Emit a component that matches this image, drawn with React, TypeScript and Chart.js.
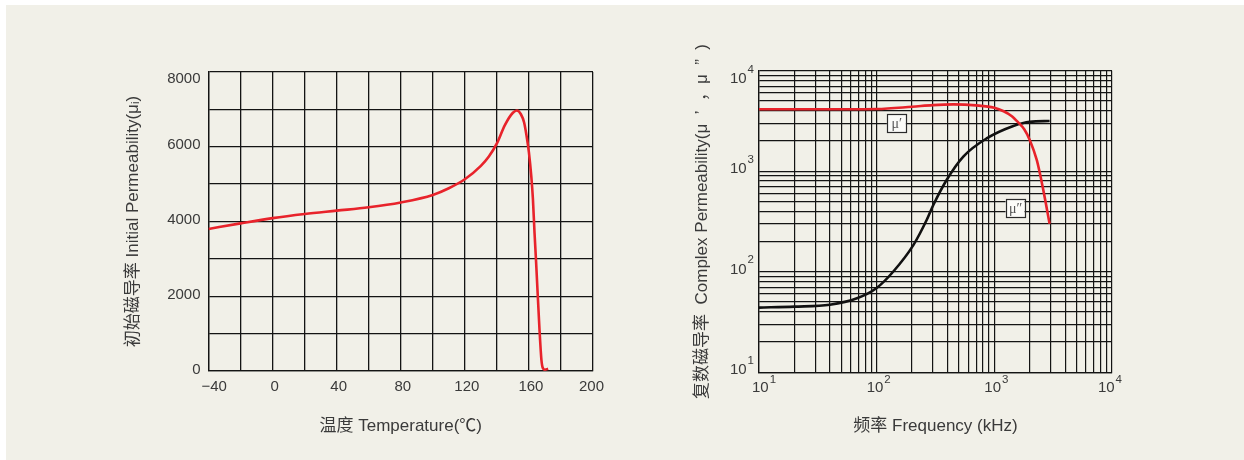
import React, { useEffect, useRef } from 'react';
import { Chart, registerables } from 'chart.js';

Chart.register(...registerables);

const FONT = '"Liberation Sans", "Noto Sans CJK SC", sans-serif';
const TEXT = '#3a3a3a';
const GRID = '#141414';
const RED = '#e8232b';
const BLACK = '#111111';
const PANEL = '#f1f0e8';

// ---- Left chart: initial permeability vs temperature ----
const temperatureC = [-40, -20, 0, 20, 40, 60, 80, 100, 110, 120, 130, 135, 140, 145, 150, 152.5, 155, 157, 158.5, 160, 161.5, 162.5, 163.5, 164.5, 166.5, 167.8, 168.8, 170, 172];
const initialPermeability = [3800, 3950, 4090, 4200, 4290, 4380, 4510, 4710, 4890, 5130, 5490, 5740, 6090, 6580, 6910, 6970, 6870, 6650, 6300, 5850, 5200, 4600, 3700, 2900, 1190, 300, 70, 35, 60];
const tempTickValues = [-40, 0, 40, 80, 120, 160, 200];
const tempTickLabels = ['\u221240', '0', '40', '80', '120', '160', '200'];
const muTickValues = [0, 2000, 4000, 6000, 8000];
const muTickLabels = ['0', '2000', '4000', '6000', '8000'];
const leftXTitle = '温度 Temperature(℃)';
const leftYTitle = '初始磁导率 Initial Permeability(μᵢ)';

// ---- Right chart: complex permeability vs frequency ----
const freqReal = [10, 30, 100, 200, 300, 450, 700, 1000, 1200, 1400, 1600, 1800, 2000, 2300, 2600, 2950];
const muReal = [4130, 4130, 4160, 4380, 4550, 4620, 4520, 4280, 3950, 3550, 3050, 2600, 2050, 1280, 660, 300];
const freqImag = [10, 20, 40, 68, 100, 138, 205, 266, 303, 393, 545, 860, 1450, 2000, 2950];
const muImag = [44, 45, 47, 54.5, 69, 100, 184, 327, 461, 818, 1400, 2120, 2820, 3110, 3160];
const decadeValues = [10, 100, 1000, 10000];
const decadeExponents = ['1', '2', '3', '4'];
const gridMultipliers = [1, 2, 3, 4, 5, 6, 7, 8, 9];
const annotationLabels = ['μ′', 'μ″'];
const annotationFreq = [147, 1500];
const annotationMu = [3020, 428];
const rightXTitle = '频率 Frequency (kHz)';
const rightYTitle = '复数磁导率  Complex Permeability(μ  ’  ，μ  ”  )';

const logGrid = decadeValues
  .slice(0, -1)
  .flatMap((d) => gridMultipliers.map((m) => m * d))
  .concat([decadeValues[decadeValues.length - 1]]);

const titleFont = { family: FONT, size: 17, weight: 'normal' as const };

const leftLabelsPlugin = {
  id: 'leftLabels',
  afterDraw(chart: any) {
    const { ctx, chartArea, scales } = chart;
    ctx.save();
    ctx.fillStyle = TEXT;
    ctx.font = `15px ${FONT}`;
    ctx.textBaseline = 'middle';
    ctx.textAlign = 'right';
    muTickValues.forEach((v, i) => {
      const py = scales.y.getPixelForValue(v);
      const y = Math.max(py - 1.5, chartArea.top + 7);
      ctx.fillText(muTickLabels[i], chartArea.left - 8, y);
    });
    ctx.textAlign = 'left';
    tempTickValues.forEach((v, i) => {
      const label = tempTickLabels[i];
      const w = ctx.measureText(label).width;
      const cx = scales.x.getPixelForValue(v) + 2;
      let l = cx - w / 2;
      l = Math.max(l, chartArea.left - 7);
      l = Math.min(l, chartArea.right + 11 - w);
      ctx.fillText(label, l, chartArea.bottom + 15.5);
    });
    ctx.restore();
  },
};

const rightLabelsPlugin = {
  id: 'rightLabels',
  afterDraw(chart: any) {
    const { ctx, chartArea, scales } = chart;
    ctx.save();
    ctx.fillStyle = TEXT;
    ctx.textBaseline = 'middle';
    const big = `15px ${FONT}`;
    const small = `11.5px ${FONT}`;
    // y axis
    decadeValues.forEach((v, i) => {
      const py = scales.y.getPixelForValue(v);
      const yc = Math.max(py - 2, chartArea.top + 8.6);
      ctx.font = small;
      const w2 = ctx.measureText(decadeExponents[i]).width;
      const right = chartArea.left - 5;
      ctx.textAlign = 'left';
      ctx.fillText(decadeExponents[i], right - w2, yc - 9.5);
      ctx.font = big;
      ctx.textAlign = 'right';
      ctx.fillText('10', right - w2 - 1, yc);
    });
    // x axis
    decadeValues.forEach((v, i) => {
      const px = scales.x.getPixelForValue(v);
      ctx.font = big;
      const w1 = ctx.measureText('10').width;
      ctx.font = small;
      const w2 = ctx.measureText(decadeExponents[i]).width;
      const wt = w1 + 1 + w2;
      let l = px + 2 - wt / 2;
      l = Math.max(l, chartArea.left - 7);
      l = Math.min(l, chartArea.right + 10 - wt);
      ctx.textAlign = 'left';
      ctx.font = big;
      ctx.fillText('10', l, chartArea.bottom + 16);
      ctx.font = small;
      ctx.fillText(decadeExponents[i], l + w1 + 1, chartArea.bottom + 8);
    });
    // annotation boxes
    annotationLabels.forEach((label, i) => {
      const cx = scales.x.getPixelForValue(annotationFreq[i]);
      const cy = scales.y.getPixelForValue(annotationMu[i]);
      const bw = 19;
      const bh = 18;
      ctx.fillStyle = '#fbfbf8';
      ctx.fillRect(cx - bw / 2, cy - bh / 2, bw, bh);
      ctx.strokeStyle = '#2a2a2a';
      ctx.lineWidth = 1.2;
      ctx.strokeRect(Math.round(cx - bw / 2) + 0.5, Math.round(cy - bh / 2) + 0.5, bw, bh);
      ctx.fillStyle = '#555555';
      ctx.font = `14px "Liberation Serif", "DejaVu Serif", serif`;
      ctx.textAlign = 'center';
      ctx.fillText(label, cx + 0.5, cy + 1);
    });
    ctx.restore();
  },
};

function LeftChart() {
  const ref = useRef<HTMLCanvasElement | null>(null);
  useEffect(() => {
    if (!ref.current) return;
    const chart = new Chart(ref.current, {
      type: 'line',
      data: {
        datasets: [
          {
            data: temperatureC.map((t, i) => ({ x: t, y: initialPermeability[i] })),
            borderColor: RED,
            borderWidth: 2.6,
            pointRadius: 0,
            fill: false,
            cubicInterpolationMode: 'monotone',
          },
        ],
      },
      options: {
        responsive: false,
        animation: false,
        layout: { padding: { left: 0, top: 72, right: 47, bottom: 0 } },
        plugins: { legend: { display: false }, tooltip: { enabled: false } },
        scales: {
          x: {
            type: 'linear',
            min: -40,
            max: 200,
            ticks: { display: false, stepSize: 20 },
            grid: { color: GRID, lineWidth: 1.3, drawTicks: false },
            border: { color: GRID, width: 1.3 },
            title: { display: true, text: leftXTitle, font: titleFont, color: TEXT, padding: { top: 0, bottom: 23.8 } },
            afterFit: (s: any) => {
              s.height = 89;
            },
          },
          y: {
            type: 'linear',
            min: 0,
            max: 8000,
            ticks: { display: false, stepSize: 1000 },
            grid: { color: GRID, lineWidth: 1.3, drawTicks: false },
            border: { color: GRID, width: 1.3 },
            title: { display: true, text: leftYTitle, font: titleFont, color: TEXT, padding: { top: 122.8, bottom: 0 } },
            afterFit: (s: any) => {
              s.width = 208.5;
            },
          },
        },
      },
      plugins: [leftLabelsPlugin],
    } as any);
    return () => chart.destroy();
  }, []);
  return (
    <canvas
      ref={ref}
      width={640}
      height={460}
      style={{ position: 'absolute', left: 0, top: 0, width: 640, height: 460 }}
    />
  );
}

function RightChart() {
  const ref = useRef<HTMLCanvasElement | null>(null);
  useEffect(() => {
    if (!ref.current) return;
    const chart = new Chart(ref.current, {
      type: 'line',
      data: {
        datasets: [
          {
            data: freqReal.map((f, i) => ({ x: f, y: muReal[i] })),
            borderColor: RED,
            borderWidth: 2.6,
            pointRadius: 0,
            fill: false,
            cubicInterpolationMode: 'monotone',
          },
          {
            data: freqImag.map((f, i) => ({ x: f, y: muImag[i] })),
            borderColor: BLACK,
            borderWidth: 2.6,
            pointRadius: 0,
            fill: false,
            cubicInterpolationMode: 'monotone',
          },
        ],
      },
      options: {
        responsive: false,
        animation: false,
        layout: { padding: { left: 0, top: 70.7, right: 132, bottom: 0 } },
        plugins: { legend: { display: false }, tooltip: { enabled: false } },
        scales: {
          x: {
            type: 'logarithmic',
            min: 10,
            max: 10000,
            ticks: { display: false },
            afterBuildTicks: (s: any) => {
              s.ticks = logGrid.map((v) => ({ value: v }));
            },
            grid: { color: GRID, lineWidth: 1.2, drawTicks: false },
            border: { color: GRID, width: 1.3 },
            title: { display: true, text: rightXTitle, font: titleFont, color: TEXT, padding: { top: 0, bottom: 23.8 } },
            afterFit: (s: any) => {
              s.height = 87.7;
            },
          },
          y: {
            type: 'logarithmic',
            min: 10,
            max: 10000,
            ticks: { display: false },
            afterBuildTicks: (s: any) => {
              s.ticks = logGrid.map((v) => ({ value: v }));
            },
            grid: { color: GRID, lineWidth: 1.2, drawTicks: false },
            border: { color: GRID, width: 1.3 },
            title: { display: true, text: rightYTitle, font: titleFont, color: TEXT, padding: { top: 51.8, bottom: 0 } },
            afterFit: (s: any) => {
              s.width = 119;
            },
          },
        },
      },
      plugins: [rightLabelsPlugin],
    } as any);
    return () => chart.destroy();
  }, []);
  return (
    <canvas
      ref={ref}
      width={604}
      height={460}
      style={{ position: 'absolute', left: 640, top: 0, width: 604, height: 460 }}
    />
  );
}

export default function App() {
  return (
    <div
      style={{
        position: 'absolute',
        left: 0,
        top: 0,
        width: 1244,
        height: 460,
        background: '#ffffff',
        overflow: 'hidden',
      }}
    >
      <div style={{ position: 'absolute', left: 6, top: 5, width: 1238, height: 455, background: PANEL }} />
      <LeftChart />
      <RightChart />
    </div>
  );
}
